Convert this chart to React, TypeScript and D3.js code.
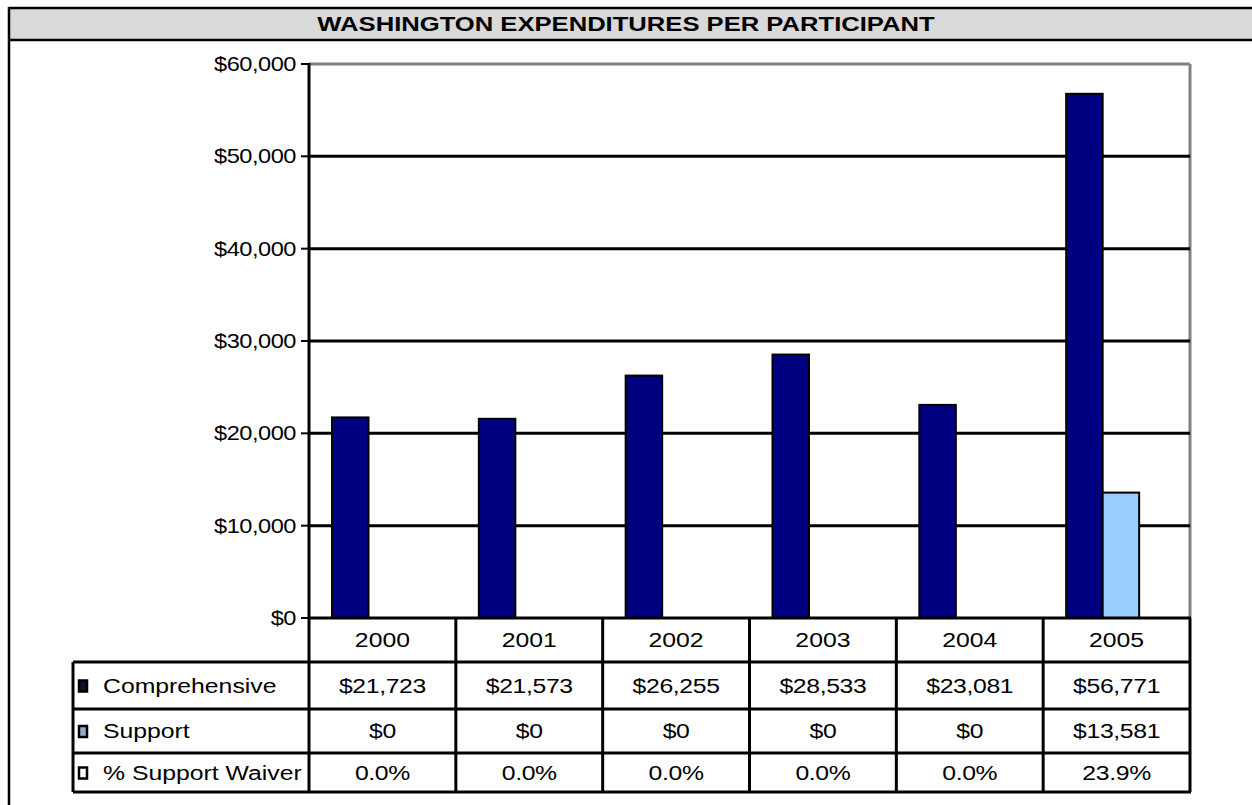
import React from "react";
import * as d3 from "d3";

const title = "WASHINGTON EXPENDITURES PER PARTICIPANT";
const years = ["2000", "2001", "2002", "2003", "2004", "2005"];
const comprehensive = [21723, 21573, 26255, 28533, 23081, 56771];
const support = [0, 0, 0, 0, 0, 13581];
const supportWaiverPct = [0.0, 0.0, 0.0, 0.0, 0.0, 23.9];
const seriesNames = ["Comprehensive", "Support"];
const rowLabels = ["Comprehensive", "Support", "% Support Waiver"];
const yTicks = [0, 10000, 20000, 30000, 40000, 50000, 60000];

const W = 1252;
const H = 805;
const plotLeft = 309;
const plotRight = 1190;
const plotTop = 64;
const plotBottom = 618;
const tableLeft = 73;
const rowEdges = [618, 662, 709, 753, 792];
const font = "'Liberation Sans', Arial, sans-serif";
const SX = 1.18;

const money = (v: number) => "$" + d3.format(",")(v);

function SText(props: {
  x: number;
  y: number;
  anchor?: string;
  size: number;
  weight?: string;
  sx?: number;
  spacing?: number;
  children: React.ReactNode;
}) {
  const { x, y, anchor = "start", size, weight = "normal", sx = SX, spacing = 0, children } = props;
  return (
    <text
      transform={`translate(${x},${y}) scale(${sx},1)`}
      dy="0.35em"
      textAnchor={anchor}
      fontFamily={font}
      fontSize={size}
      fontWeight={weight}
      letterSpacing={spacing}
      fill="#000"
    >
      {children}
    </text>
  );
}

export default function App() {
  const x = d3.scaleBand<string>().domain(years).range([plotLeft, plotRight]).padding(0);
  const xInner = d3.scaleBand<string>().domain(seriesNames).range([23, 23 + 73]).padding(0);
  const y = d3.scaleLinear().domain([0, 60000]).range([plotBottom, plotTop]);
  const colors: Record<string, string> = { Comprehensive: "#000080", Support: "#99CCFF" };
  const seriesData: Record<string, number[]> = { Comprehensive: comprehensive, Support: support };

  const rowValues: string[][] = [
    comprehensive.map(money),
    support.map(money),
    supportWaiverPct.map((v) => d3.format(".1f")(v) + "%"),
  ];

  return (
    <svg width={W} height={H} style={{ position: "absolute", left: 0, top: 0, display: "block", background: "#fff" }}>
      <defs>
        <clipPath id="labelClip">
          <rect x={tableLeft} y={rowEdges[1]} width={plotLeft - tableLeft - 1} height={rowEdges[4] - rowEdges[1]} />
        </clipPath>
      </defs>
      {/* outer frame + title bar */}
      <rect x={9} y={9} width={W + 10} height={31} fill="#D9D9D9" />
      <line x1={9} y1={8} x2={W} y2={8} stroke="#000" strokeWidth={2.5} />
      <line x1={9} y1={40} x2={W} y2={40} stroke="#000" strokeWidth={2.5} />
      <line x1={9} y1={7} x2={9} y2={H} stroke="#000" strokeWidth={2.5} />
      <SText x={626} y={24} anchor="middle" size={21} weight="bold" sx={1.22}>
        {title}
      </SText>

      {/* plot frame (gray top/right) */}
      <line x1={plotLeft} y1={plotTop} x2={plotRight} y2={plotTop} stroke="#808080" strokeWidth={3} />
      <line x1={plotRight} y1={plotTop} x2={plotRight} y2={plotBottom} stroke="#808080" strokeWidth={3} />

      {/* gridlines */}
      {yTicks.filter((t) => t > 0 && t < 60000).map((t) => (
        <line key={"g" + t} x1={plotLeft} x2={plotRight} y1={y(t)} y2={y(t)} stroke="#000" strokeWidth={3} />
      ))}

      {/* bars */}
      {seriesNames.map((s) =>
        years.map((yr, i) => {
          const v = seriesData[s][i];
          if (v <= 0) return null;
          const bx = (x(yr) as number) + (xInner(s) as number);
          return (
            <rect
              key={s + yr}
              x={bx}
              y={y(v)}
              width={xInner.bandwidth()}
              height={y(0) - y(v)}
              fill={colors[s]}
              stroke="#000"
              strokeWidth={2}
            />
          );
        })
      )}

      {/* y axis */}
      <line x1={plotLeft} y1={plotTop - 1} x2={plotLeft} y2={rowEdges[4]} stroke="#000" strokeWidth={3} />
      {yTicks.map((t) => (
        <g key={"t" + t}>
          <line x1={plotLeft - 8} x2={plotLeft} y1={y(t)} y2={y(t)} stroke="#000" strokeWidth={2} />
          <SText x={plotLeft - 13} y={y(t)} anchor="end" size={20} spacing={-0.4}>
            {money(t)}
          </SText>
        </g>
      ))}

      {/* data table */}
      <line x1={plotLeft} x2={plotRight + 1} y1={rowEdges[0]} y2={rowEdges[0]} stroke="#000" strokeWidth={3} />
      {rowEdges.slice(1).map((ry) => (
        <line key={"r" + ry} x1={tableLeft} x2={plotRight + 1} y1={ry} y2={ry} stroke="#000" strokeWidth={3} />
      ))}
      <line x1={tableLeft} x2={tableLeft} y1={rowEdges[1]} y2={rowEdges[4]} stroke="#000" strokeWidth={3} />
      {years.map((yr) => (
        <line
          key={"c" + yr}
          x1={(x(yr) as number) + x.bandwidth()}
          x2={(x(yr) as number) + x.bandwidth()}
          y1={rowEdges[0]}
          y2={rowEdges[4]}
          stroke="#000"
          strokeWidth={3}
        />
      ))}
      {years.map((yr) => (
        <SText key={"h" + yr} x={(x(yr) as number) + x.bandwidth() / 2} y={(rowEdges[0] + rowEdges[1]) / 2} anchor="middle" size={21}>
          {yr}
        </SText>
      ))}
      <g clipPath="url(#labelClip)">
        {rowLabels.map((lab, r) => {
          const cy = (rowEdges[r + 1] + rowEdges[r + 2]) / 2;
          const keyFill = r === 0 ? "#111122" : r === 1 ? "#9AA8C8" : "#FFFFFF";
          return (
            <g key={"l" + lab}>
              <rect x={79} y={cy - 5} width={8} height={11} fill={keyFill} stroke="#000" strokeWidth={2.5} />
              <SText x={103} y={cy} size={21} spacing={0}>
                {lab}
              </SText>
            </g>
          );
        })}
      </g>
      {rowValues.map((vals, r) =>
        vals.map((v, i) => (
          <SText
            key={"v" + r + "-" + i}
            x={(x(years[i]) as number) + x.bandwidth() / 2}
            y={(rowEdges[r + 1] + rowEdges[r + 2]) / 2}
            anchor="middle"
            size={21}
            spacing={-0.3}
          >
            {v}
          </SText>
        ))
      )}
    </svg>
  );
}
